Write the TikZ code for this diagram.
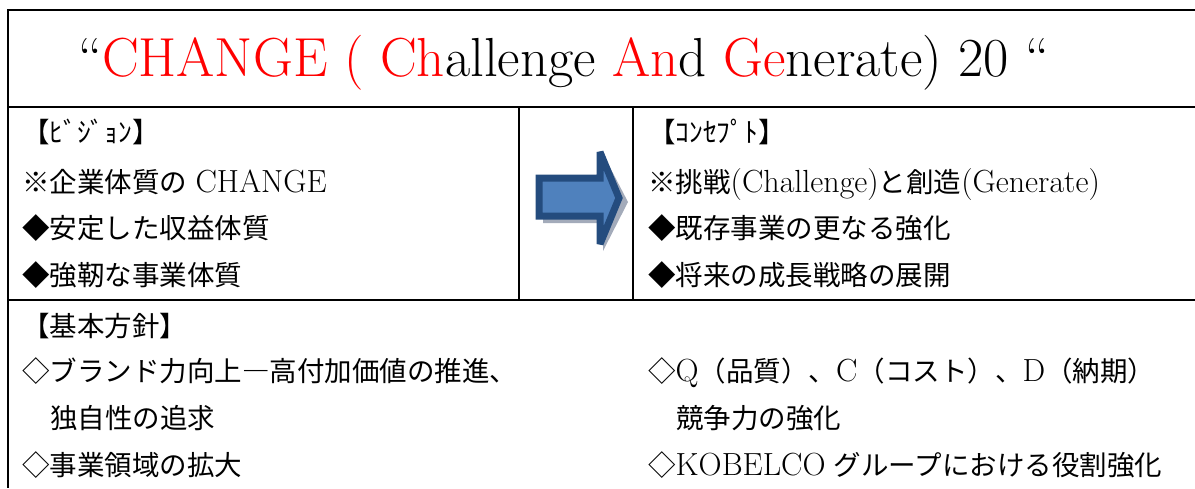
\documentclass[tikz,border=0pt]{standalone}
\usepackage{fontspec}
\newfontfamily\cjk{Noto Sans CJK JP}
\newcommand\J[1]{{\cjk #1}}
\newcommand\LL[1]{{\fontsize{32}{32}\selectfont #1}}
\definecolor{arrowfill}{HTML}{4F81BD}
\definecolor{arrowline}{HTML}{244C7E}
\definecolor{arrowshadow}{HTML}{A3ABBA}
\tikzset{
  frame/.style={line width=2pt, black},
  thinframe/.style={line width=1.6pt, black},
  txt/.style={anchor=base west, inner sep=0pt, font=\fontsize{27.5}{27.5}\selectfont},
  ttl/.style={anchor=base west, inner sep=0pt, font=\fontsize{55}{55}\selectfont},
}
\begin{document}
\begin{tikzpicture}[x=1pt,y=-1pt]
\useasboundingbox (0,0) rectangle (1195,488);
% frame
\draw[frame] (1195,10) -- (8,10) -- (8,488);
\draw[frame] (8,107) -- (1195,107);
\draw[frame] (8,300) -- (1195,300);
\draw[thinframe] (519,107) -- (519,300);
\draw[thinframe] (633,107) -- (633,300);
% title
\node[ttl] (title) at (78,76) {``\textcolor{red}{CHANGE ( Ch}allenge \textcolor{red}{An}d \textcolor{red}{Ge}nerate) 20 ``};
% arrow
\fill[arrowshadow] (543,182) -- (603,182) -- (603,154) -- (628,202) -- (603,251) -- (603,223) -- (543,223) -- cycle;
\draw[line width=7pt, arrowline, fill=arrowfill, line join=miter, miter limit=3]
  (539,178) -- (600,178) -- (600,152) -- (619,198) -- (600,244) -- (600,216) -- (539,216) -- cycle;
% vision
\node[txt] (v0) at (22,142) {\J{【ﾋﾞｼﾞｮﾝ】}};
\node[txt] (v1) at (22,192) {\J{※企業体質の} \LL{CHANGE}};
\node[txt] (v2) at (22,238) {\J{◆安定した収益体質}};
\node[txt] (v3) at (22,285) {\J{◆強靭な事業体質}};
% concept
\node[txt] (c0) at (648,142) {\J{【ｺﾝｾﾌﾟﾄ】}};
\node[txt] (c1) at (648,192) {\J{※挑戦}\LL{(Challenge)}\J{と創造}\LL{(Generate)}};
\node[txt] (c2) at (648,238) {\J{◆既存事業の更なる強化}};
\node[txt] (c3) at (648,285) {\J{◆将来の成長戦略の展開}};
% policy
\node[txt] (p0) at (22,336) {\J{【基本方針】}};
\node[txt] (p1) at (22,381) {\J{◇ブランド力向上―高付加価値の推進、}};
\node[txt] (p2) at (50,428) {\J{独自性の追求}};
\node[txt] (p3) at (22,475) {\J{◇事業領域の拡大}};
\node[txt] (q1) at (648,381) {\J{◇}\LL{Q}\J{（品質）、}\LL{C}\J{（コスト）、}\LL{D}\J{（納期）}};
\node[txt] (q2) at (676,428) {\J{競争力の強化}};
\node[txt] (q3) at (648,475) {\J{◇}\LL{KOBELCO} \J{グループにおける役割強化}};
\end{tikzpicture}
\end{document}
